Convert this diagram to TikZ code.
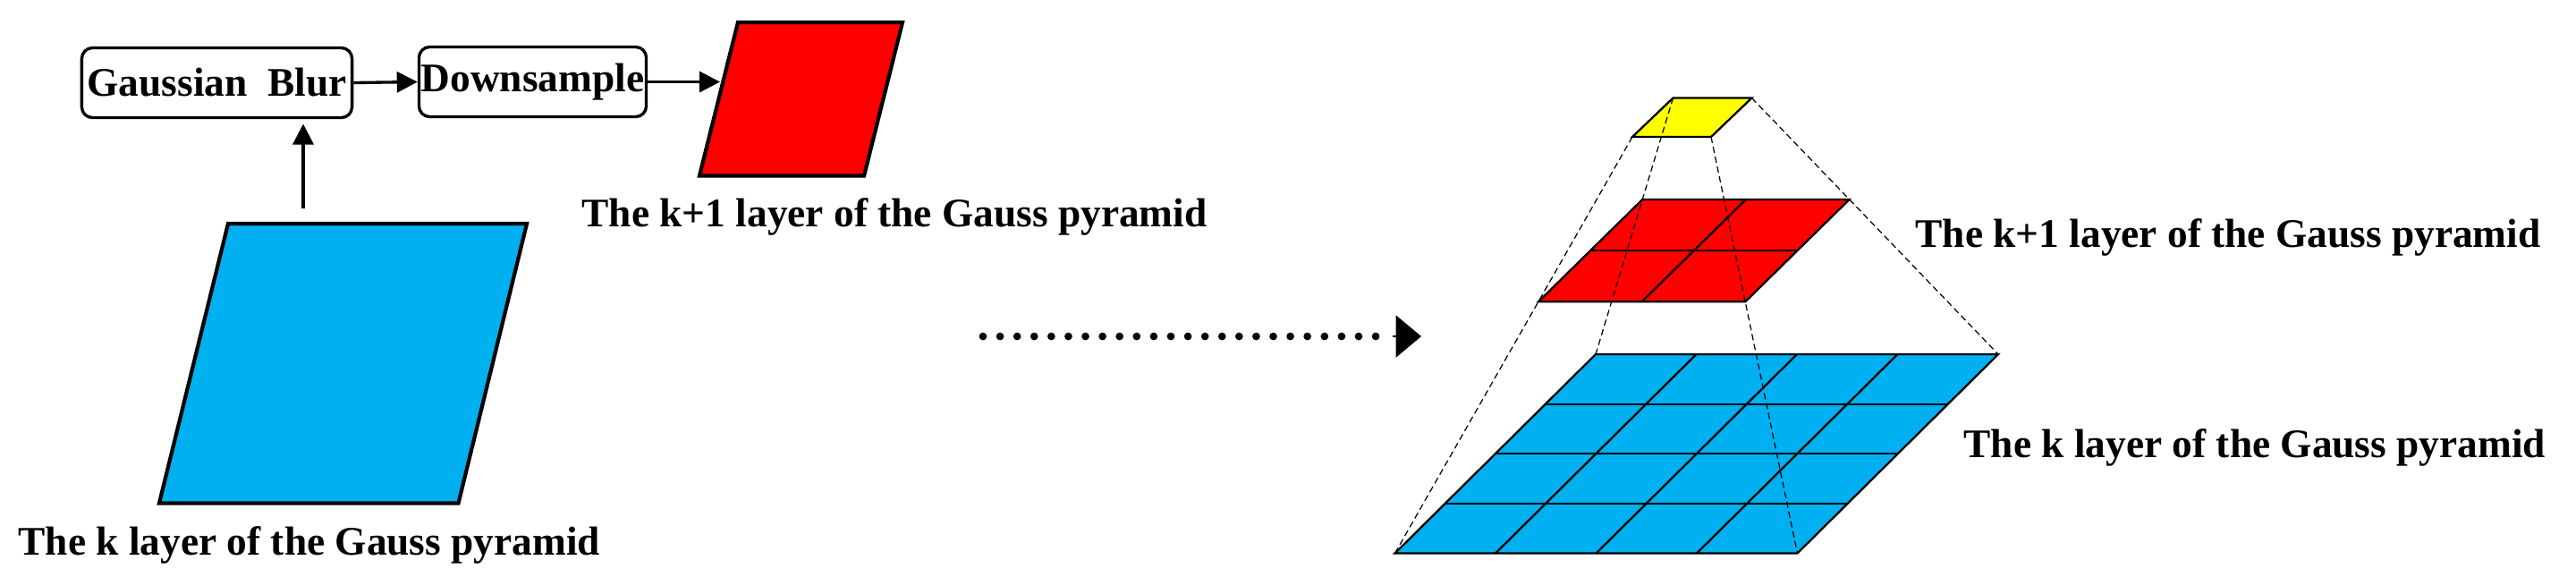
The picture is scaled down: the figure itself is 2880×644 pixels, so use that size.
\documentclass[tikz,border=0pt]{standalone}
\usepackage{fontspec}
\setmainfont{Liberation Serif}
\usetikzlibrary{arrows.meta,calc}
\definecolor{skyb}{HTML}{00B0F0}
\definecolor{pred}{HTML}{FF0000}
\definecolor{pyel}{HTML}{FFFF00}
\begin{document}
\begin{tikzpicture}[x=0.01cm,y=-0.01cm,
  lbl/.style={font=\bfseries\fontsize{12.9pt}{15pt}\selectfont, inner sep=0pt, anchor=base west},
  procbox/.style={draw, line width=0.95pt, rounded corners=0.12cm, minimum height=0.78cm, inner sep=0pt, font=\bfseries\fontsize{12.9pt}{15pt}\selectfont},
  flow/.style={line width=0.95pt, -{Triangle[length=0.23cm,width=0.23cm]}},
  thickpar/.style={draw, line width=1.2pt, line join=miter},
  gridln/.style={line width=0.65pt},
  guide/.style={line width=0.35pt, dash pattern=on 2pt off 1.2pt},
  dotline/.style={line width=0.087cm, line cap=round, dash pattern=on 0pt off 0.1908cm},
]
\useasboundingbox (0,0) rectangle (2880,644);

% ---------- left part ----------
\node[procbox, minimum width=3.02cm] (gb) at (242.5,92.5) {Gaussian\ \ Blur};
\node[procbox, minimum width=2.54cm] (ds) at (595.5,91.5) {Downsample};

\draw[thickpar, fill=skyb] (255,250) -- (589,250) -- (512.5,562.5) -- (178,562.5) -- cycle;
\draw[thickpar, fill=pred] (825,25) -- (1009,25) -- (966,196.5) -- (782,196.5) -- cycle;

\coordinate (upS) at (339,233);
\coordinate (upE) at (339,138.5);
\coordinate (redIn) at (805,91.5);
\draw[flow] (upS) -- (upE);
\draw[flow] (gb.east) -- (ds.west);
\draw[flow] (ds.east) -- (redIn);

\node[lbl] (lblL1) at (650,253) {The k+1 layer of the Gauss pyramid};
\node[lbl] (lblL2) at (20,620) {The k layer of the Gauss pyramid};

% ---------- dotted arrow ----------
\coordinate (dotS) at (1099,376);
\coordinate (dotE) at (1557,376);
\coordinate (dotT) at (1589,376);
\draw[dotline] (dotS) -- (dotE);
\draw[line width=0.4pt, -{Triangle[length=0.283cm,width=0.47cm]}] (dotE) -- (dotT);

% ---------- pyramid ----------
\coordinate (yTL) at (1870.5,109.5);
\coordinate (yTR) at (1958.5,109.5);
\coordinate (yBL) at (1825,153);
\coordinate (yBR) at (1913,153);
\coordinate (bTL) at (1784,396);
\coordinate (bTR) at (2234,396);
\coordinate (bBL) at (1559.5,618.5);
\coordinate (bBR) at (2009.5,618.5);
\foreach \c in {TL,TR,BL,BR} \coordinate (r\c) at ($(y\c)!0.396!(b\c)$);

\filldraw[fill=skyb, gridln] (bTL) -- (bTR) -- (bBR) -- (bBL) -- cycle;
\foreach \f in {0.25,0.5,0.75} {
  \draw[gridln] ($(bTL)!\f!(bBL)$) -- ($(bTR)!\f!(bBR)$);
  \draw[gridln] ($(bTL)!\f!(bTR)$) -- ($(bBL)!\f!(bBR)$);
}
\filldraw[fill=pred, gridln] (rTL) -- (rTR) -- (rBR) -- (rBL) -- cycle;
\draw[gridln] ($(rTL)!0.5!(rBL)$) -- ($(rTR)!0.5!(rBR)$);
\draw[gridln] ($(rTL)!0.5!(rTR)$) -- ($(rBL)!0.5!(rBR)$);
\filldraw[fill=pyel, gridln] (yTL) -- (yTR) -- (yBR) -- (yBL) -- cycle;
\foreach \c in {TL,TR,BL,BR} \draw[guide] (y\c) -- (b\c);

\node[lbl] (lblR1) at (2141,276.5) {The k+1 layer of the Gauss pyramid};
\node[lbl] (lblR2) at (2195,511.5) {The k layer of the Gauss pyramid};
\end{tikzpicture}
\end{document}
